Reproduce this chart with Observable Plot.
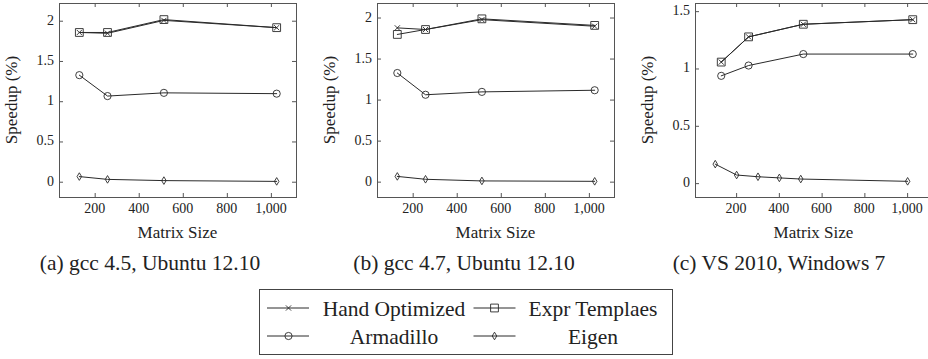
<!DOCTYPE html>
<html>
<head>
<meta charset="utf-8">
<script src="https://cdn.jsdelivr.net/npm/d3@7"></script>
<script src="https://cdn.jsdelivr.net/npm/@observablehq/plot@0.6"></script>
<style>
  html, body { margin: 0; padding: 0; background: #fff; }
  #root { position: relative; width: 928px; height: 359px; overflow: hidden; font-family: "Liberation Serif", serif; color: #222; }
  .lbl { position: absolute; white-space: nowrap; font-family: "Liberation Serif", serif; color: #222; }
  .tick { font-size: 14px; line-height: 16px; }
  .axt { font-size: 17px; line-height: 20px; text-align: center; }
  .caption { position: absolute; width: 320px; text-align: center; font-size: 21.5px; line-height: 24px; top: 251px; white-space: nowrap; }
  #legend { position: absolute; left: 259px; top: 289px; width: 414px; height: 66px; border: 1px solid #444; box-sizing: border-box; }
</style>
</head>
<body>
<div id="root"></div>
<script>
// ---- data ----
const sizes = [128, 256, 512, 1024];
const eigenSizesC = [100, 200, 300, 400, 500, 1000];
const xTicks = [200, 400, 600, 800, 1000];
const yTicksAB = [0, 0.5, 1, 1.5, 2];
const yTicksC = [0, 0.5, 1, 1.5];
const seriesNames = ["Hand Optimized", "Expr Templaes", "Armadillo", "Eigen"];
const captions = ["(a) gcc 4.5, Ubuntu 12.10", "(b) gcc 4.7, Ubuntu 12.10", "(c) VS 2010, Windows 7"];
const xLabel = "Matrix Size";
const yLabel = "Speedup (%)";

const handA = [1.86, 1.85, 2.01, 1.92];
const exprA = [1.86, 1.86, 2.02, 1.92];
const armaA = [1.33, 1.07, 1.11, 1.10];
const eigenA = [0.07, 0.035, 0.02, 0.01];

const handB = [1.88, 1.86, 1.98, 1.90];
const exprB = [1.80, 1.86, 1.99, 1.91];
const armaB = [1.33, 1.065, 1.10, 1.12];
const eigenB = [0.07, 0.035, 0.015, 0.01];

const handC = [1.06, 1.28, 1.39, 1.43];
const exprC = [1.06, 1.28, 1.39, 1.43];
const armaC = [0.94, 1.03, 1.13, 1.13];
const eigenC = [0.17, 0.075, 0.06, 0.05, 0.04, 0.02];

// ---- symbols ----
const rad = (size) => Math.sqrt(size / Math.PI);
const symCross = {draw(c, s) { const r = rad(s); c.moveTo(-r, -r); c.lineTo(r, r); c.moveTo(-r, r); c.lineTo(r, -r); }};
const symSquare = {draw(c, s) { const r = rad(s); c.moveTo(-r, -r); c.lineTo(r, -r); c.lineTo(r, r); c.lineTo(-r, r); c.closePath(); }};
const symCircle = {draw(c, s) { const r = rad(s); c.moveTo(r, 0); c.arc(0, 0, r, 0, 2 * Math.PI); c.closePath(); }};
const symDiamond = {draw(c, s) { const r = rad(s); c.moveTo(0, -r); c.lineTo(0.6 * r, 0); c.lineTo(0, r); c.lineTo(-0.6 * r, 0); c.closePath(); }};

const INK = "#2a2a2a";
const FRAME = "#555";
const W = 306, H = 245, ML = 59, MR = 10, MT = 3, MB = 48;
const FW = W - ML - MR, FH = H - MT - MB;
const fmtX = d3.format(",");

const root = document.getElementById("root");

function seriesMarks(xs, ys, sym, r) {
  return [
    Plot.line(ys, {x: xs, y: d => d, stroke: INK, strokeWidth: 1}),
    Plot.dot(ys, {x: xs, y: d => d, symbol: sym, r, stroke: INK, strokeWidth: 0.9, fill: "none"})
  ];
}

function addLabel(text, cls, css) {
  const d = document.createElement("div");
  d.className = "lbl " + cls;
  d.textContent = text;
  Object.assign(d.style, css);
  root.appendChild(d);
}

function panel(left, xDomain, yDomain, yTicks, series) {
  const plot = Plot.plot({
    width: W, height: H,
    marginLeft: ML, marginRight: MR, marginTop: MT, marginBottom: MB,
    x: {domain: xDomain, axis: null},
    y: {domain: yDomain, axis: null},
    marks: [
      Plot.frame({stroke: FRAME, strokeWidth: 1}),
      // inward ticks on all four sides
      Plot.ruleY(yTicks, {y: d => d, insetRight: FW - 4, stroke: FRAME}),
      Plot.ruleY(yTicks, {y: d => d, insetLeft: FW - 4, stroke: FRAME}),
      Plot.ruleX(xTicks, {x: d => d, insetTop: FH - 4, stroke: FRAME}),
      Plot.ruleX(xTicks, {x: d => d, insetBottom: FH - 4, stroke: FRAME}),
      ...series
    ]
  });
  plot.style.position = "absolute";
  plot.style.left = left + "px";
  plot.style.top = "0px";
  plot.style.background = "transparent";
  plot.style.overflow = "visible";
  root.appendChild(plot);

  // tick labels and axis titles, positioned with the plot's own scales
  const sx = plot.scale("x"), sy = plot.scale("y");
  xTicks.forEach(v => addLabel(fmtX(v), "tick", {
    left: (left + sx.apply(v) - 30) + "px", width: "60px", textAlign: "center", top: (MT + FH + 4) + "px"
  }));
  yTicks.forEach(v => addLabel(String(v), "tick", {
    left: (left + ML - 5 - 40) + "px", width: "40px", textAlign: "right", top: (sy.apply(v) - 8) + "px"
  }));
  addLabel(xLabel, "axt", {
    left: (left + ML + FW / 2 - 80) + "px", width: "160px", top: (MT + FH + 26) + "px"
  });
  addLabel(yLabel, "axt", {
    left: (left + 12 - 70) + "px", width: "140px", top: (MT + FH / 2 - 10) + "px",
    transform: "rotate(-90deg)", transformOrigin: "50% 50%"
  });
  return plot;
}

panel(0, [38, 1114], [-0.19, 2.22], yTicksAB, [
  ...seriesMarks(sizes, handA, symCross, 2.6),
  ...seriesMarks(sizes, exprA, symSquare, 3.9),
  ...seriesMarks(sizes, armaA, symCircle, 3.6),
  ...seriesMarks(sizes, eigenA, symDiamond, 3.8)
]);

panel(318, [38, 1114], [-0.187, 2.177], yTicksAB, [
  ...seriesMarks(sizes, handB, symCross, 2.6),
  ...seriesMarks(sizes, exprB, symSquare, 3.9),
  ...seriesMarks(sizes, armaB, symCircle, 3.6),
  ...seriesMarks(sizes, eigenB, symDiamond, 3.8)
]);

panel(636, [7.6, 1116.4], [-0.121, 1.571], yTicksC, [
  ...seriesMarks(sizes, handC, symCross, 2.6),
  ...seriesMarks(sizes, exprC, symSquare, 3.9),
  ...seriesMarks(sizes, armaC, symCircle, 3.6),
  ...seriesMarks(eigenSizesC, eigenC, symDiamond, 3.8)
]);

// captions
const capCenters = [150, 464, 779];
captions.forEach((t, i) => {
  const d = document.createElement("div");
  d.className = "caption";
  d.style.left = (capCenters[i] - 160) + "px";
  d.textContent = t;
  root.appendChild(d);
});

// legend
const leg = document.createElement("div");
leg.id = "legend";
root.appendChild(leg);
const lsvg = d3.select(leg).append("svg").attr("width", 412).attr("height", 64)
  .style("position", "absolute").style("left", "0px").style("top", "0px");
const legSyms = [symCross, symSquare, symCircle, symDiamond];
const legR = [2.6, 3.9, 3.6, 3.8];
const legPos = [
  {lx: 7, mx: 28.5, tx: 134, ty: 18},
  {lx: 213.5, mx: 234.5, tx: 333, ty: 18},
  {lx: 7, mx: 28.5, tx: 134, ty: 46},
  {lx: 213.5, mx: 234.5, tx: 333, ty: 46}
];
seriesNames.forEach((name, i) => {
  const p = legPos[i];
  lsvg.append("line").attr("x1", p.lx).attr("x2", p.lx + 42).attr("y1", p.ty).attr("y2", p.ty)
    .attr("stroke", INK).attr("stroke-width", 1);
  lsvg.append("path").attr("d", d3.symbol(legSyms[i], Math.PI * legR[i] * legR[i])())
    .attr("transform", `translate(${p.mx},${p.ty})`).attr("fill", "none").attr("stroke", INK).attr("stroke-width", 0.9);
  lsvg.append("text").attr("x", p.tx).attr("y", p.ty).attr("dy", "0.35em").attr("text-anchor", "middle")
    .attr("font-family", "Liberation Serif").attr("font-size", 21.5).attr("fill", "#222").text(name);
});
</script>
</body>
</html>
